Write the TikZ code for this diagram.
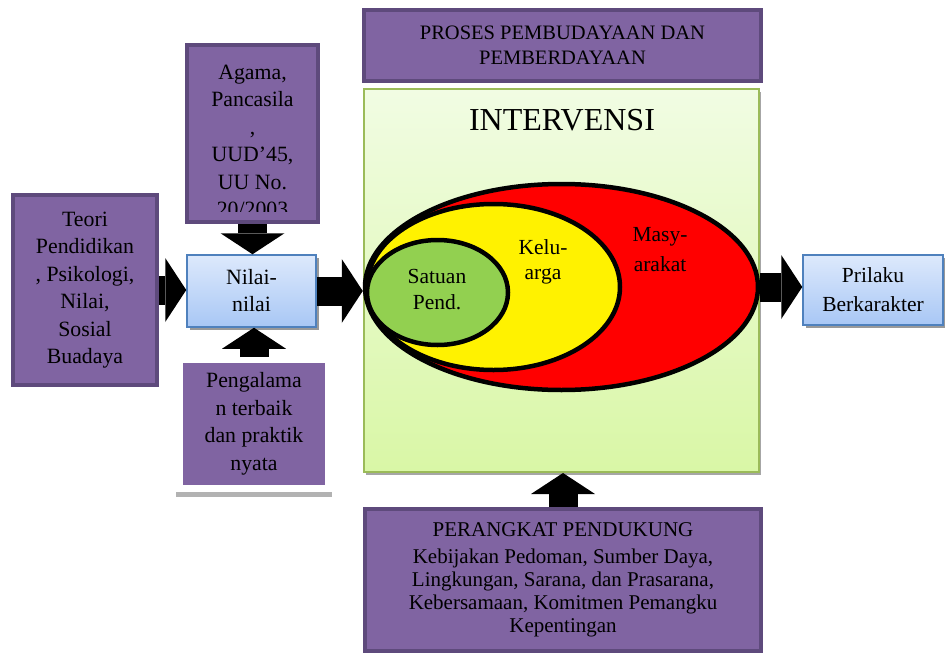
\documentclass[tikz,border=0pt]{standalone}
\usepackage{fontspec}
\setmainfont{Liberation Serif}
\usepackage{tikz}
\usetikzlibrary{shapes,arrows.meta,shadows}
\usetikzlibrary{positioning, shapes.geometric}

\definecolor{purplefill}{HTML}{8064A2}
\definecolor{purpleline}{HTML}{5E4A7C}
\definecolor{bluetop}{HTML}{DDE9FC}
\definecolor{bluebottom}{HTML}{A8C7F5}
\definecolor{blueline}{HTML}{4F81BD}
\definecolor{greentop}{HTML}{F1FCE3}
\definecolor{greenbottom}{HTML}{D9F7A6}
\definecolor{greenline}{HTML}{9BBB59}
\definecolor{satuangreen}{HTML}{92D050}

\begin{document}
\begin{tikzpicture}[x=1pt,y=-1pt]
  \tikzstyle{every node}=[align=center, inner sep=0pt, font=\fontsize{21.8}{27.5}\selectfont]
  \tikzstyle{purplebox}=[draw=purpleline, fill=purplefill, line width=4pt]
  \tikzstyle{bluebox}=[draw=blueline, line width=1.5pt, top color=bluetop, bottom color=bluebottom,
    drop shadow={shadow xshift=3pt, shadow yshift=-3pt, fill=black!40, opacity=1}]
  \tikzstyle{ring}=[draw, ellipse, line width=4.5pt]

  \useasboundingbox (0,0) rectangle (945,653);

  % Specification of nodes (position, etc.)
  \node[purplebox, minimum width=144, minimum height=190] (Teori) at (85,290)
    {Teori\\Pendidikan\\, Psikologi,\\Nilai,\\Sosial\\Buadaya};
  \node[purplebox, minimum width=131, minimum height=177] (Agama) at (252.5,133.5) {};
  \begin{scope}
    \clip (Agama.south west) ++(2,-13) rectangle (Agama.north east);
    \node (AgamaText) at (252.5,141) {Agama,\\Pancasila\\,\\UUD'45,\\UU No.\\20/2003};
  \end{scope}
  \fill[black!30] (176,492) rectangle (332,497);
  \node[fill=purplefill, draw=white, line width=6pt, minimum width=148, minimum height=128] (Pengalaman) at (254,424)
    {Pengalama\\n terbaik\\dan praktik\\nyata};
  \node[bluebox, minimum width=129, minimum height=72, font=\fontsize{21.8}{27}\selectfont] (Nilai) at (251.5,291) {Nilai-\\nilai};
  \node[bluebox, minimum width=140, minimum height=70, font=\fontsize{21.5}{29}\selectfont] (Prilaku) at (873,290) {Prilaku\\Berkarakter};

  \node[purplebox, minimum width=397, minimum height=71, font=\fontsize{20.5}{25}\selectfont] (Proses) at (562.5,45.5)
    {PROSES PEMBUDAYAAN DAN\\PEMBERDAYAAN};
  \node[draw=greenline, line width=2pt, top color=greentop, bottom color=greenbottom,
    drop shadow={shadow xshift=2pt, shadow yshift=-3pt, fill=black!35, opacity=1},
    minimum width=395, minimum height=383] (Intervensi) at (561.5,280.5) {};
  \node[font=\fontsize{32}{32}\selectfont] (IntervensiTitle) at (562,120) {INTERVENSI};

  \node[ring, fill=red, minimum width=393, minimum height=206] (Masyarakat) at (561.5,287) {};
  \node[ring, fill=yellow, minimum width=253, minimum height=166] (Keluarga) at (493.5,287) {};
  \node[ring, fill=satuangreen, minimum width=141, minimum height=105] (Satuan) at (437.5,292.5) {};
  \node[font=\fontsize{21.5}{26}\selectfont] (SatuanText) at (437,290) {Satuan\\Pend.};
  \node[font=\fontsize{21.5}{25}\selectfont] (KeluargaText) at (543,262) {Kelu-\\arga};
  \node[font=\fontsize{21.5}{30}\selectfont] (MasyarakatText) at (660,250) {Masy-\\arakat};

  \node[purplebox, minimum width=396, minimum height=142, font=\fontsize{21}{23}\selectfont] (Perangkat) at (563,580)
    {PERANGKAT PENDUKUNG\\[4pt]Kebijakan Pedoman, Sumber Daya,\\Lingkungan, Sarana, dan Prasarana,\\Kebersamaan, Komitmen Pemangku\\Kepentingan};

  \begin{scope}[line width=29pt, -{Triangle[length=21pt, width=64pt, line width=0pt]}]
    \draw (Teori.east) -- (Teori.east -| Nilai.west);
    \draw (Agama.south) -- (Agama.south |- Nilai.north);
    \draw (Pengalaman.north) -- (Pengalaman.north |- Nilai.south);
    \draw (Nilai.east) -- (Nilai.east -| Masyarakat.west);
    \draw (Masyarakat.east) -- (Masyarakat.east -| Prilaku.west);
    \draw (Perangkat.north) -- (Perangkat.north |- Intervensi.south);
  \end{scope}
\end{tikzpicture}
\end{document}
